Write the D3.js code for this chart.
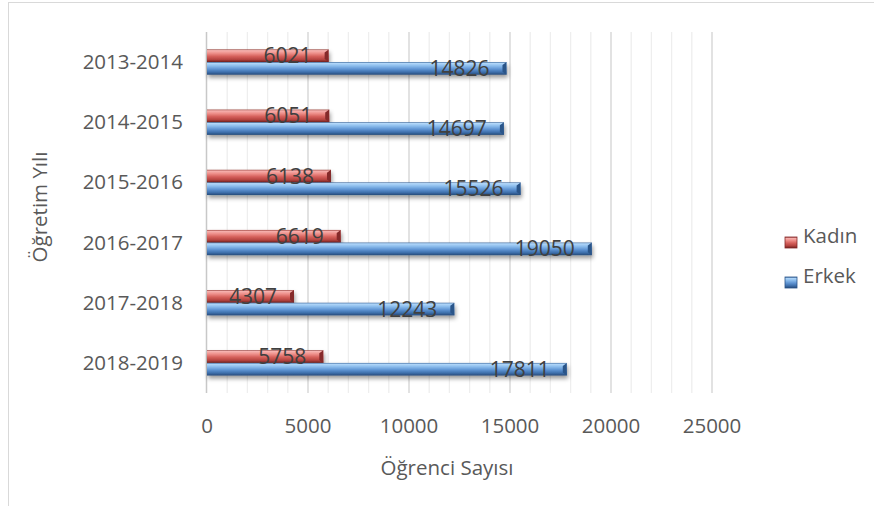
<!DOCTYPE html>
<html>
<head>
<meta charset="utf-8">
<script src="https://cdn.jsdelivr.net/npm/d3@7"></script>
<style>
  body { margin: 0; background: #fff; }
  text { font-family: "Open Sans", "Noto Sans", sans-serif; fill: #595959; }
</style>
</head>
<body>
<svg id="chart"></svg>
<script>
const years = ["2013-2014", "2014-2015", "2015-2016", "2016-2017", "2017-2018", "2018-2019"]
const kadin = [6021, 6051, 6138, 6619, 4307, 5758]
const erkek = [14826, 14697, 15526, 19050, 12243, 17811]
const seriesNames = ["Kadın", "Erkek"]
const xTicks = [0, 5000, 10000, 15000, 20000, 25000]

const width = 874, height = 506
const svg = d3.select("#chart").attr("width", width).attr("height", height)

// outer chart border (right / bottom edges fall outside the picture)
svg.append("rect")
  .attr("x", 8.5).attr("y", 2.5).attr("width", 1000).attr("height", 1000)
  .attr("fill", "none").attr("stroke", "#d9d9d9")

const plot = { left: 207, right: 712, top: 32, bottom: 393 }

const x = d3.scaleLinear().domain([0, 25000]).range([plot.left, plot.right])
const y = d3.scaleBand().domain(years).range([plot.top, plot.bottom]).paddingInner(0.58).paddingOuter(0.29)
const ySub = d3.scaleBand().domain(seriesNames).range([0, y.bandwidth()])

const defs = svg.append("defs")
function grad(id, stops) {
  const g = defs.append("linearGradient").attr("id", id)
    .attr("x1", 0).attr("y1", 0).attr("x2", 0).attr("y2", 1)
  stops.forEach(s => g.append("stop").attr("offset", s[0]).attr("stop-color", s[1]))
}
grad("gKadin", [[0, "#8f2e2b"], [0.09, "#f6b3b0"], [0.3, "#ee8f8a"], [0.55, "#d5605b"], [0.8, "#b4433f"], [1, "#6e201e"]])
grad("gErkek", [[0, "#2f5d95"], [0.09, "#b3d8fa"], [0.3, "#8bbcec"], [0.55, "#5f94d3"], [0.8, "#3e6fab"], [1, "#264a78"]])
const endColor = { "Kadın": "#85292a", "Erkek": "#2a5489" }
const fillId = { "Kadın": "url(#gKadin)", "Erkek": "url(#gErkek)" }

const shadow = defs.append("filter").attr("id", "shadow")
  .attr("x", "-5%").attr("y", "-50%").attr("width", "115%").attr("height", "250%")
shadow.append("feDropShadow").attr("dx", 1).attr("dy", 3).attr("stdDeviation", 2)
  .attr("flood-color", "#000").attr("flood-opacity", 0.4)

// gridlines: minor every 1000, major every 5000
const minor = d3.range(1000, 25001, 1000).filter(v => v % 5000 !== 0)
svg.append("g").selectAll("line").data(minor).enter().append("line")
  .attr("x1", d => x(d)).attr("x2", d => x(d))
  .attr("y1", plot.top).attr("y2", plot.bottom)
  .attr("stroke", "#eeeeee").attr("stroke-width", 1.3)
svg.append("g").selectAll("line").data(xTicks.slice(1)).enter().append("line")
  .attr("x1", d => x(d)).attr("x2", d => x(d))
  .attr("y1", plot.top).attr("y2", plot.bottom)
  .attr("stroke", "#d9d9d9").attr("stroke-width", 1.5)

// vertical axis line
svg.append("line")
  .attr("x1", x(0) - 0.5).attr("x2", x(0) - 0.5)
  .attr("y1", plot.top).attr("y2", plot.bottom)
  .attr("stroke", "#c8c8c8").attr("stroke-width", 1.5)

// bars
const rows = []
years.forEach((yr, i) => {
  rows.push({ year: yr, s: "Kadın", v: kadin[i] })
  rows.push({ year: yr, s: "Erkek", v: erkek[i] })
})

const bars = svg.append("g").selectAll("g").data(rows).enter().append("g")
  .attr("filter", "url(#shadow)")
bars.append("rect")
  .attr("x", x(0))
  .attr("y", d => y(d.year) + ySub(d.s))
  .attr("width", d => x(d.v) - x(0))
  .attr("height", ySub.bandwidth())
  .attr("fill", d => fillId[d.s])
bars.append("polygon")
  .attr("points", d => {
    const x1 = x(d.v), y0 = y(d.year) + ySub(d.s), h = ySub.bandwidth()
    return [[x1 - 4, y0 + 3], [x1, y0], [x1, y0 + h], [x1 - 4, y0 + h - 3]].join(" ")
  })
  .attr("fill", d => endColor[d.s])

// data labels
svg.append("g").selectAll("text").data(rows).enter().append("text")
  .attr("x", d => x(d.v) - 17)
  .attr("y", d => y(d.year) + ySub(d.s) + ySub.bandwidth() / 2 + 7.5)
  .attr("text-anchor", "end")
  .style("font-size", "21px")
  .style("fill", "#404040")
  .text(d => d.v)

// category labels
svg.append("g").selectAll("text").data(years).enter().append("text")
  .attr("x", 183)
  .attr("y", d => y(d) + y.bandwidth() / 2 + 7)
  .attr("text-anchor", "end")
  .style("font-size", "20.5px")
  .text(d => d)

// x tick labels
svg.append("g").selectAll("text").data(xTicks).enter().append("text")
  .attr("x", d => x(d))
  .attr("y", 433)
  .attr("text-anchor", "middle")
  .style("font-size", "20.5px")
  .text(d => d)

// axis titles
svg.append("text")
  .attr("x", 447).attr("y", 475)
  .attr("text-anchor", "middle")
  .style("font-size", "20.5px")
  .text("Öğrenci Sayısı")
svg.append("text")
  .attr("transform", "translate(47,207) rotate(-90)")
  .attr("text-anchor", "middle")
  .style("font-size", "20.5px")
  .text("Öğretim Yılı")

// legend
const legend = svg.append("g").selectAll("g").data(seriesNames).enter().append("g")
  .attr("transform", (d, i) => `translate(785,${237 + i * 40})`)
legend.append("rect")
  .attr("width", 12).attr("height", 11)
  .attr("fill", d => fillId[d])
  .attr("stroke", d => endColor[d]).attr("stroke-width", 0.8)
legend.append("text")
  .attr("x", 18).attr("y", 6)
  .style("font-size", "20.5px")
  .text(d => d)
</script>
</body>
</html>
